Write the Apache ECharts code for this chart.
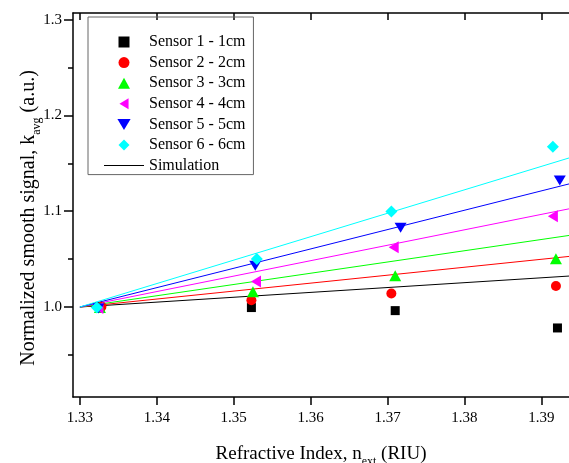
<!DOCTYPE html>
<html>
<head>
<meta charset="utf-8">
<style>
  html, body { margin: 0; padding: 0; background: #fff; }
  #chart { width: 569px; height: 463px; }
</style>
<script src="https://cdn.jsdelivr.net/npm/echarts@6/dist/echarts.min.js"></script>
</head>
<body>
<div id="chart"></div>
<script>
// measured points [refractive index, normalized signal]
const sensor1 = [[1.3326, 1.0000], [1.3523, 0.9994], [1.3710, 0.9962], [1.3921, 0.9781]]
const sensor2 = [[1.3328, 1.0003], [1.3523, 1.0070], [1.3705, 1.0140], [1.3919, 1.0219]]
const sensor3 = [[1.3326, 0.9995], [1.3525, 1.0160], [1.3710, 1.0327], [1.3919, 1.0504]]
const sensor4 = [[1.3324, 0.9990], [1.3529, 1.0265], [1.3708, 1.0625], [1.3915, 1.0948]]
const sensor5 = [[1.3324, 0.9985], [1.3528, 1.0430], [1.3717, 1.0827], [1.3924, 1.1320]]
const sensor6 = [[1.3322, 0.9995], [1.3530, 1.0500], [1.3705, 1.0997], [1.3915, 1.1674]]

// simulation lines, start and end of each
const simX = [1.33, 1.3936]
const sim1 = [1.0, 1.0323]
const sim2 = [1.0, 1.0528]
const sim3 = [1.0, 1.0747]
const sim4 = [1.0, 1.1025]
const sim5 = [1.0, 1.1285]
const sim6 = [1.0, 1.1556]

const sensorNames = ['Sensor 1 - 1cm', 'Sensor 2 - 2cm', 'Sensor 3 - 3cm', 'Sensor 4 - 4cm', 'Sensor 5 - 5cm', 'Sensor 6 - 6cm']
const xTicks = [1.33, 1.34, 1.35, 1.36, 1.37, 1.38, 1.39]
const yTicks = [1.0, 1.1, 1.2, 1.3]
const yMinorTicks = [0.95, 1.05, 1.15, 1.25]

const font = 'Liberation Serif'
const colors = ['#000000', '#ff0000', '#00ff00', '#ff00ff', '#0000ff', '#00ffff']
const leftTri = 'path://M0,6L10,0L10,12Z'
const downTri = 'path://M0,0L12,0L6,10Z'
const symbols = ['rect', 'circle', 'triangle', leftTri, downTri, 'diamond']
const sizes = [9, 10, [12, 11], [10, 12], [12, 10], 12]
const legendIcons = ['path://M0,0L9,0L9,9L0,9Z', 'circle', 'path://M6,0L12,11L0,11Z', leftTri, downTri, 'path://M6,0L12,6L6,12L0,6Z']
const lineIcon = 'path://M0,0L40,0L40,1L0,1Z'

const sensors = [sensor1, sensor2, sensor3, sensor4, sensor5, sensor6]
const sims = [sim1, sim2, sim3, sim4, sim5, sim6]

const chart = echarts.init(document.getElementById('chart'))

const axisLine = { show: true, lineStyle: { color: '#000', width: 1.5 } }
const xMin = 1.3291
const xMax = 1.3936
const yMin = 0.906
const yMax = 1.307

const series = []
sims.forEach((s, i) => {
  series.push({
    name: 'Simulation',
    type: 'line',
    data: simX.map((x, j) => [x, s[j]]),
    symbol: 'none',
    silent: true,
    z: 2,
    lineStyle: { color: colors[i], width: 1 },
    itemStyle: { color: colors[i] },
  })
})
sensors.forEach((d, i) => {
  series.push({
    name: sensorNames[i],
    type: 'scatter',
    data: d,
    symbol: symbols[i],
    symbolSize: sizes[i],
    z: 3,
    itemStyle: { color: colors[i], opacity: 1 },
  })
})

chart.setOption({
  backgroundColor: '#fff',
  animation: false,
  grid: { left: 73, right: 0, top: 13, bottom: 66, outerBoundsMode: 'none' },
  legend: {
    orient: 'vertical',
    left: 88,
    top: 17,
    padding: [17, 8, 1, 16],
    borderColor: '#666',
    borderWidth: 1,
    itemWidth: 40,
    itemHeight: 11,
    itemGap: 4.6,
    symbolKeepAspect: true,
    textStyle: { fontFamily: font, fontSize: 16, lineHeight: 16, color: '#000' },
    data: [
      ...sensorNames.map((n, i) => ({ name: n, icon: legendIcons[i], itemStyle: { color: colors[i] } })),
      { name: 'Simulation', icon: lineIcon, itemStyle: { color: '#000' } },
    ],
  },
  xAxis: [
    {
      type: 'value',
      position: 'bottom',
      min: xMin,
      max: xMax,
      axisLine,
      splitLine: { show: false },
      axisTick: { show: true, inside: false, length: 8, customValues: xTicks, lineStyle: { color: '#000', width: 1.5 } },
      axisLabel: {
        customValues: xTicks,
        formatter: (v) => v.toFixed(2),
        fontFamily: font,
        fontSize: 15,
        color: '#000',
        margin: 14,
      },
      name: 'Refractive Index, n{sub|ext} (RIU)',
      nameLocation: 'middle',
      nameGap: 43,
      nameMoveOverlap: false,
      nameTextStyle: {
        fontFamily: font,
        fontSize: 19,
        color: '#000',
        rich: { sub: { fontFamily: font, fontSize: 12, color: '#000', padding: [16, 0, 0, 0] } },
      },
    },
    {
      type: 'value',
      position: 'top',
      min: xMin,
      max: xMax,
      axisLine,
      splitLine: { show: false },
      axisTick: { show: true, inside: true, length: 7, customValues: xTicks, lineStyle: { color: '#000', width: 1.5 } },
      axisLabel: { show: false },
    },
  ],
  yAxis: [
    {
      type: 'value',
      position: 'left',
      min: yMin,
      max: yMax,
      axisLine,
      splitLine: { show: false },
      axisTick: { show: true, inside: false, length: 9, customValues: yTicks, lineStyle: { color: '#000', width: 1.5 } },
      axisLabel: {
        customValues: yTicks,
        formatter: (v) => v.toFixed(1),
        fontFamily: font,
        fontSize: 15,
        color: '#000',
        margin: 11,
      },
      name: 'Normalized smooth signal, k{sub|avg} (a.u.)',
      nameLocation: 'middle',
      nameGap: 30,
      nameMoveOverlap: false,
      nameTextStyle: {
        fontFamily: font,
        fontSize: 20,
        color: '#000',
        padding: [0, 26, 0, 0],
        rich: { sub: { fontFamily: font, fontSize: 12, color: '#000', padding: [16, 0, 0, 0] } },
      },
    },
    {
      type: 'value',
      position: 'left',
      min: yMin,
      max: yMax,
      axisLine: { show: false },
      splitLine: { show: false },
      axisTick: { show: true, inside: false, length: 5, customValues: yMinorTicks, lineStyle: { color: '#000', width: 1.5 } },
      axisLabel: { show: false },
    },
  ],
  series,
})
</script>
</body>
</html>
